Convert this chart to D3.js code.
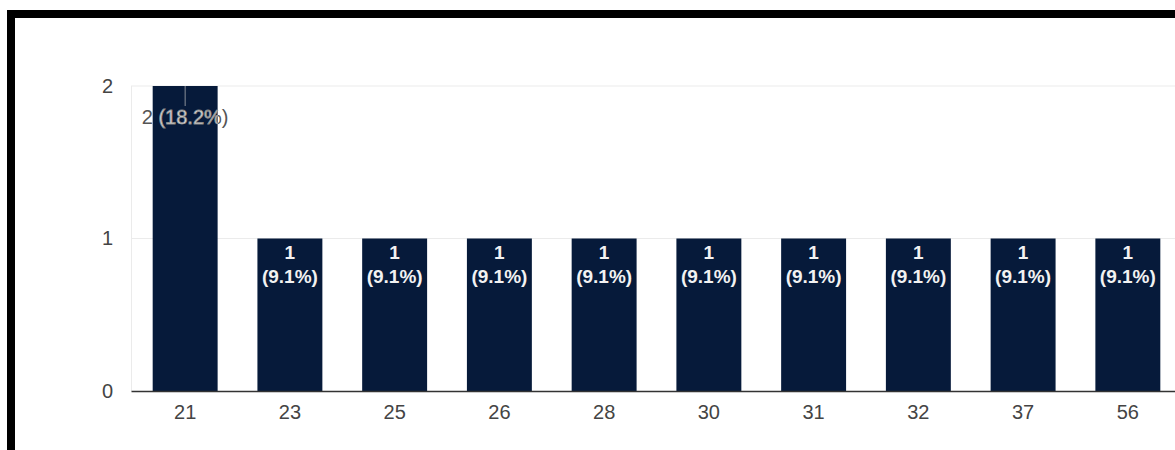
<!DOCTYPE html>
<html>
<head>
<meta charset="utf-8">
<script src="https://cdn.jsdelivr.net/npm/d3@7"></script>
<style>
  body { margin: 0; background: #fff; }
  svg { display: block; }
</style>
</head>
<body>
<svg id="chart" width="1175" height="450"></svg>
<script>
var ages = ["21", "23", "25", "26", "28", "30", "31", "32", "37", "56"];
var counts = [2, 1, 1, 1, 1, 1, 1, 1, 1, 1];
var percents = ["18.2%", "9.1%", "9.1%", "9.1%", "9.1%", "9.1%", "9.1%", "9.1%", "9.1%", "9.1%"];
var yTicks = [0, 1, 2];

var svg = d3.select("#chart"),
	margin = {top: 86, right: -7, bottom: 59, left: 131},
	width = svg.attr("width") - margin.left - margin.right,
	height = svg.attr("height") - margin.top - margin.bottom;

var barColor = "#061a3a";
var axisFont = "20px 'Liberation Sans', Arial, sans-serif";
var labelFont = "bold 19px 'Liberation Sans', Arial, sans-serif";

// black frame around the screenshot
svg.append("rect")
	.attr("x", 11).attr("y", 14)
	.attr("width", 1300).attr("height", 600)
	.attr("fill", "none")
	.attr("stroke", "#000")
	.attr("stroke-width", 8);

var g = svg.append("g").attr("transform", "translate(" + margin.left + "," + margin.top + ")");

var x = d3.scaleBand().domain(ages).range([0, width]).paddingInner(0.38).paddingOuter(0.207);
var y = d3.scaleLinear().domain([0, 2]).range([height, 0]);

// grid
g.selectAll(".grid")
	.data(yTicks.filter(function(d) { return d > 0; }))
	.enter().append("line")
	.attr("x1", 0).attr("x2", width)
	.attr("y1", function(d) { return y(d); })
	.attr("y2", function(d) { return y(d); })
	.attr("stroke", "#ebebeb");

g.append("line")
	.attr("x1", 0.5).attr("x2", 0.5)
	.attr("y1", y(2)).attr("y2", height)
	.attr("stroke", "#ebebeb");

// y axis labels
var yAxis = g.append("g")
	.call(d3.axisLeft(y).tickValues(yTicks).tickFormat(d3.format("d")).tickSize(0).tickPadding(18));
yAxis.select(".domain").remove();
yAxis.selectAll("text")
	.style("font", axisFont)
	.attr("fill", "#444");

var rows = ages.map(function(a, i) { return {age: a, count: counts[i], pct: percents[i]}; });

// bars
g.selectAll(".bar")
	.data(rows)
	.enter().append("rect")
	.attr("class", "bar")
	.attr("x", function(d) { return x(d.age); })
	.attr("y", function(d) { return y(d.count); })
	.attr("width", x.bandwidth())
	.attr("height", function(d) { return height - y(d.count); })
	.attr("fill", barColor);

// x axis
var xAxis = g.append("g")
	.attr("transform", "translate(0," + height + ")")
	.call(d3.axisBottom(x).tickSize(0).tickPadding(14));
xAxis.select(".domain").attr("stroke", "#333").attr("stroke-width", 1.5);
xAxis.selectAll("text")
	.style("font", axisFont)
	.attr("fill", "#444");

// two-line labels for the short bars
var small = rows.filter(function(d) { return d.count < 2; });
var lab = g.selectAll(".lab")
	.data(small)
	.enter().append("text")
	.attr("text-anchor", "middle")
	.attr("fill", "#f2f2f2")
	.style("font", labelFont)
	.attr("transform", function(d) { return "translate(" + (x(d.age) + x.bandwidth() / 2) + "," + y(d.count) + ")"; });
lab.append("tspan").attr("x", 0).attr("y", 20).text(function(d) { return d.count; });
lab.append("tspan").attr("x", 0).attr("y", 44).text(function(d) { return "(" + d.pct + ")"; });

// single-line label for the tall bar, overflowing the bar
var big = rows.filter(function(d) { return d.count >= 2; });
var defs = svg.append("defs");
big.forEach(function(d, i) {
	var cx = x(d.age) + x.bandwidth() / 2;
	defs.append("clipPath").attr("id", "clipbar" + i)
		.append("rect")
		.attr("x", x(d.age)).attr("y", y(d.count))
		.attr("width", x.bandwidth()).attr("height", height - y(d.count));

	g.append("line")
		.attr("x1", cx).attr("x2", cx)
		.attr("y1", y(d.count)).attr("y2", y(d.count) + 20)
		.attr("stroke", "#8a8f99");

	var txt = d.count + " (" + d.pct + ")";
	g.append("text")
		.attr("x", cx).attr("y", y(d.count) + 38)
		.attr("text-anchor", "middle")
		.style("font", "20px 'Liberation Sans', Arial, sans-serif")
		.attr("fill", "#555")
		.text(txt);
	g.append("text")
		.attr("x", cx).attr("y", y(d.count) + 38)
		.attr("text-anchor", "middle")
		.attr("clip-path", "url(#clipbar" + i + ")")
		.style("font", "20px 'Liberation Sans', Arial, sans-serif")
		.attr("fill", "#e8e8e8")
		.attr("stroke", "#888")
		.attr("stroke-width", 0.8)
		.text(txt);
});
</script>
</body>
</html>
